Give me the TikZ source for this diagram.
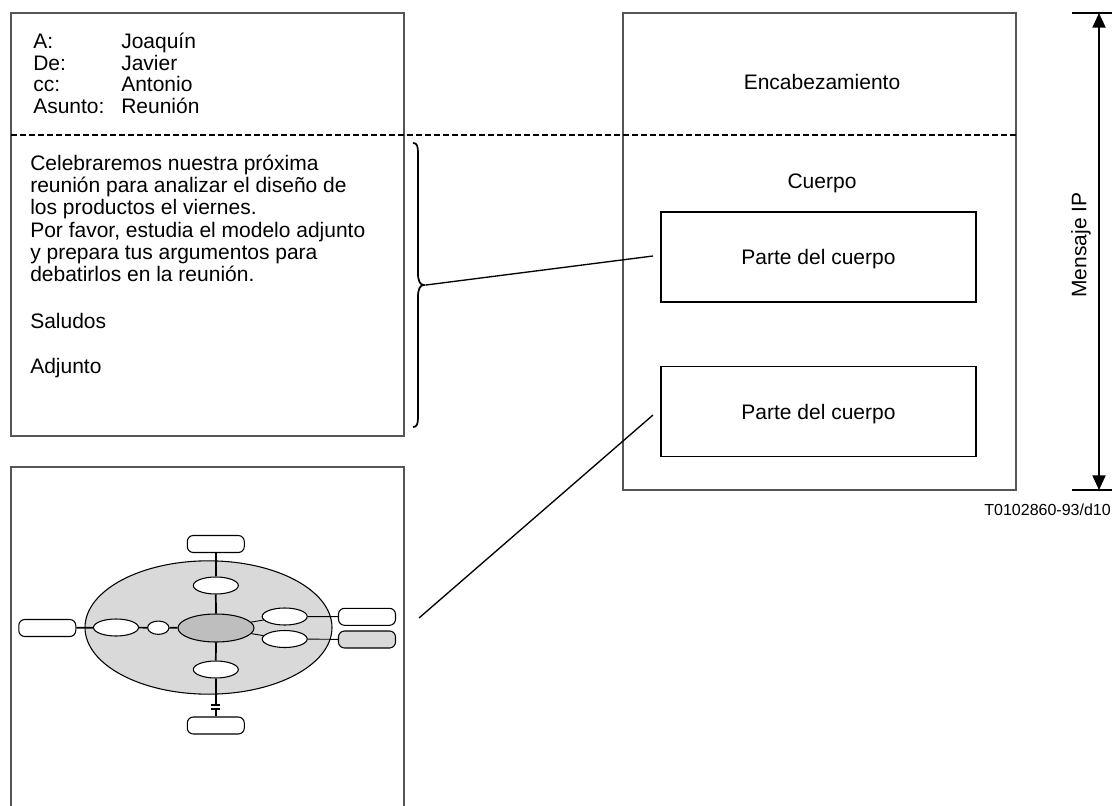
\documentclass[tikz,border=0pt]{standalone}
\usepackage{fontspec}
\setmainfont{Liberation Sans}
\usetikzlibrary{shapes.geometric,arrows.meta}

\definecolor{framegray}{RGB}{85,85,85}
\definecolor{discfill}{RGB}{217,217,217}
\definecolor{corefill}{RGB}{190,190,190}

\newcommand{\hdrfont}{\fontsize{15.75}{15.5}\selectfont}
\newcommand{\bodyfont}{\fontsize{15.75}{16.6}\selectfont}

\tikzset{
  frame/.style={draw=framegray, line width=1.2pt},
  partbox/.style={draw, line width=1pt, minimum width=236.25pt, minimum height=67.5pt, inner sep=0pt, text depth=0pt},
  pill/.style={draw, fill=white, rounded corners=4.5pt, minimum width=42.75pt, minimum height=12.75pt, inner sep=0pt, line width=0.8pt},
  oval/.style={draw, fill=white, ellipse, minimum width=33.75pt, minimum height=12.75pt, inner sep=0pt, line width=0.8pt},
  thickline/.style={line width=1.3pt},
  thinline/.style={line width=0.7pt},
  dimline/.style={line width=1.5pt, {Triangle[length=11pt,width=9.75pt]}-{Triangle[length=11pt,width=9.75pt]}}
}

\begin{document}
\begin{tikzpicture}[x=0.75pt,y=0.75pt,yscale=-1,xscale=1]
\useasboundingbox (0,0) rectangle (1113,806);

%Shape: Rectangle (message text)
\draw [frame] (11,13) rectangle (404,436) ;
%Shape: Rectangle (attachment, open at the bottom)
\draw [frame] (11,806) -- (11,467) -- (404,467) -- (404,806) ;
%Shape: Rectangle (IP message)
\draw [frame] (623,13) rectangle (1016,490) ;

%Straight Lines (heading / body)
\draw [line width=1.6pt, dash pattern={on 4.5pt off 2.25pt}] (11,135) -- (1016,135) ;

% Text Node
\draw (33,33) node [anchor=north west, inner sep=0pt, font=\hdrfont] (heading) {\begin{tabular}{@{}p{66pt}@{}l@{}}
A: & Joaquín\\
De: & Javier\\
cc: & Antonio\\
Asunto: & Reunión
\end{tabular}};
% Text Node
\draw (30,155) node [anchor=north west, inner sep=0pt, align=left, font=\bodyfont] (text) {Celebraremos nuestra próxima\\
reunión para analizar el diseño de\\
los productos el viernes.\\
Por favor, estudia el modelo adjunto\\
y prepara tus argumentos para\\
debatirlos en la reunión.\\[18.5pt]
Saludos\\[17.5pt]
Adjunto};

%Shape: Brace
\draw [line width=1.3pt] (413,143) .. controls (417,143) and (418,146) .. (418,153) -- (418,273) .. controls (418,281) and (420,285) .. (424,285) .. controls (420,285) and (418,289) .. (418,297) -- (418,417) .. controls (418,424) and (417,427) .. (413,427) ;
\coordinate (bracetip) at (426,285) ;

% Text Node
\draw (822,82) node [font=\bodyfont] (head) {Encabezamiento};
% Text Node
\draw (822,188) node [anchor=base, font=\bodyfont] (body) {Cuerpo};
% Text Node
\draw (818.5,257) node [partbox, font=\bodyfont] (partone) {Parte del cuerpo};
% Text Node
\draw (818.5,411.5) node [partbox, font=\bodyfont] (parttwo) {Parte del cuerpo};
\coordinate (partonein) at (653,256) ;
\coordinate (parttwoin) at (653,415) ;

%Shape: Ellipse (attachment drawing)
\draw (208.5,627.5) node [draw, ellipse, fill=discfill, line width=0.8pt, minimum width=185.25pt, minimum height=100pt, inner sep=0pt] (disc) {};
\draw (216,628) node [draw, ellipse, fill=corefill, line width=0.8pt, minimum width=57pt, minimum height=21pt, inner sep=0pt] (core) {};
\draw (215.8,544) node [pill] (toppill) {};
\draw (215.8,585.5) node [oval] (topoval) {};
\draw (215.8,669.5) node [oval] (botoval) {};
\draw (215.8,725.5) node [pill] (botpill) {};
\draw (47.3,628) node [pill] (leftpill) {};
\draw (116,627.5) node [oval] (leftoval) {};
\draw (158.3,627.7) node [oval, minimum width=16pt, minimum height=10pt] (dot) {};
\draw (284.7,616.5) node [oval] (upoval) {};
\draw (284.7,639) node [oval] (lowoval) {};
\draw (367,616.8) node [pill] (uppill) {};
\draw (367,639.5) node [pill, fill=discfill] (lowpill) {};
\coordinate (plateup) at (215.8,705) ;
\coordinate (platelow) at (215.8,709) ;

%Straight Lines (attachment drawing)
\draw [thickline] (toppill) -- (topoval) ;
\draw [thickline] (topoval) -- (core) ;
\draw [thickline] (core) -- (botoval) ;
\draw [thickline] (botoval) -- (plateup) ;
\draw [thickline] (platelow) -- (botpill) ;
\draw [thickline] (plateup) ++(-4.5,0) -- ++(9,0) ;
\draw [thickline] (platelow) ++(-4.5,0) -- ++(9,0) ;
\draw [thickline] (leftpill) -- (leftoval) ;
\draw [thickline] (leftoval) -- (dot) ;
\draw [thickline] (dot) -- (core) ;
\draw [thinline] (core) -- (upoval) ;
\draw [thinline] (core) -- (lowoval) ;
\draw [thinline] (upoval) -- (uppill) ;
\draw [thinline] (lowoval) -- (lowpill) ;

%Straight Lines (to the body parts)
\coordinate (drawingout) at (419,618) ;
\draw [line width=1pt] (bracetip) -- (partonein) ;
\draw [line width=1pt] (drawingout) -- (parttwoin) ;

%Straight Lines (extent of the message)
\draw [line width=1.5pt] (1072,13) -- (1112,13) ;
\draw [line width=1.5pt] (1072,490) -- (1112,490) ;
\coordinate (msgtop) at (1099,13) ;
\coordinate (msgbot) at (1099,490) ;
\draw [dimline] (msgtop) -- (msgbot) ;

% Text Node
\draw (1081,245) node [rotate=90, font=\bodyfont] (ipmsg) {Mensaje IP};
% Text Node
\draw (1111,510) node [anchor=east, inner sep=0pt, font=\fontsize{12}{14}\selectfont] (ref) {T0102860-93/d10};

\end{tikzpicture}
\end{document}
